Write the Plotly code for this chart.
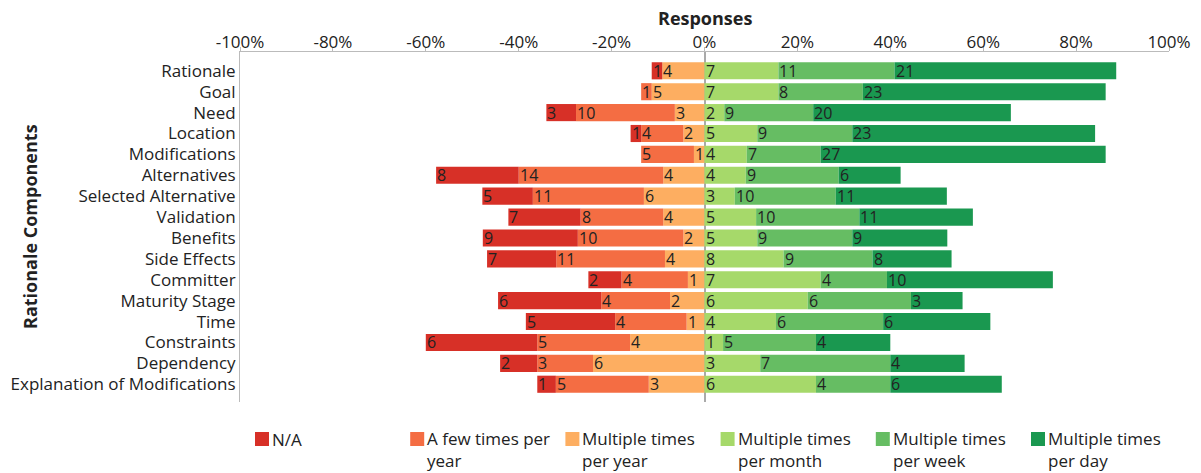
import plotly.graph_objects as go

# Rationale components and how often each response was given
components = [
    "Rationale", "Goal", "Need", "Location", "Modifications", "Alternatives",
    "Selected Alternative", "Validation", "Benefits", "Side Effects", "Committer",
    "Maturity Stage", "Time", "Constraints", "Dependency",
    "Explanation of Modifications",
]
na = [1, 0, 3, 1, 0, 8, 5, 7, 9, 7, 2, 6, 5, 6, 2, 1]
few_per_year = [0, 1, 10, 4, 5, 14, 11, 8, 10, 11, 4, 4, 4, 5, 3, 5]
multiple_per_year = [4, 5, 3, 2, 1, 4, 6, 4, 2, 4, 1, 2, 1, 4, 6, 3]
multiple_per_month = [7, 7, 2, 5, 4, 4, 3, 5, 5, 8, 7, 6, 4, 1, 3, 6]
multiple_per_week = [11, 8, 9, 9, 7, 9, 10, 10, 9, 9, 4, 6, 6, 5, 7, 4]
multiple_per_day = [21, 23, 20, 23, 27, 6, 11, 11, 9, 8, 10, 3, 6, 4, 4, 6]

tick_values = [-100, -80, -60, -40, -20, 0, 20, 40, 60, 80, 100]
tick_labels = ["-100%", "-80%", "-60%", "-40%", "-20%", "0%",
               "20%", "40%", "60%", "80%", "100%"]

FONT = "Open Sans"
TEXT_COLOR = "#222222"
AXIS_COLOR = "#bbbbbb"

# plot area in pixels
W, H = 1201, 473
L, R, T, B = 240, 32, 52, 71
PW, PH = W - L - R, H - T - B


def px_x(px):
    return (px - L) / PW


def px_y(py):
    return (H - B - py) / PH


totals = [sum(v) for v in zip(na, few_per_year, multiple_per_year,
                               multiple_per_month, multiple_per_week,
                               multiple_per_day)]

# (legend lines, counts, colour, side, legend slot); each side is stacked
# from zero outward, so the segment closest to zero comes first
series = [
    (("Multiple times", "per year"), multiple_per_year, "#fdae61", -1, 2),
    (("A few times per", "year"), few_per_year, "#f46d43", -1, 1),
    (("N/A",), na, "#d73027", -1, 0),
    (("Multiple times", "per month"), multiple_per_month, "#a6d96a", 1, 3),
    (("Multiple times", "per week"), multiple_per_week, "#66bd63", 1, 4),
    (("Multiple times", "per day"), multiple_per_day, "#1a9850", 1, 5),
]

fig = go.Figure()
shapes = []
annotations = []
neg_edge = [0.0] * len(components)
pos_edge = [0.0] * len(components)
for lines, counts, color, side, slot in series:
    name = " ".join(lines)
    pct = [side * 100.0 * c / t for c, t in zip(counts, totals)]
    fig.add_trace(go.Bar(
        y=components,
        x=pct,
        orientation="h",
        name=name,
        showlegend=False,
        marker=dict(color=color, line=dict(width=0)),
        customdata=counts,
        hovertemplate="%{y}: %{customdata}<extra>" + name + "</extra>",
    ))

    # count label at the left edge of every non-empty segment
    for i, (c, p) in enumerate(zip(counts, pct)):
        if side > 0:
            left = pos_edge[i]
            pos_edge[i] += p
        else:
            neg_edge[i] += p
            left = neg_edge[i]
        if c:
            annotations.append(dict(
                text=str(c), x=left, y=components[i],
                xref="x", yref="y",
                xanchor="left", yanchor="middle", showarrow=False,
                borderpad=0,
                font=dict(size=16, family=FONT, color=TEXT_COLOR),
            ))

    # legend entry: colour square followed by one or two lines of text
    x0 = 255 + slot * 155.2
    shapes.append(dict(
        type="rect", xref="paper", yref="paper",
        x0=px_x(x0), x1=px_x(x0 + 14), y0=px_y(446), y1=px_y(432),
        fillcolor=color, line=dict(width=0),
    ))
    annotations.append(dict(
        text="<br>".join(lines), xref="paper", yref="paper",
        x=px_x(x0 + 15), y=px_y(439.5 if len(lines) == 1 else 449),
        xanchor="left", yanchor="middle", align="left", showarrow=False,
        font=dict(size=17, family=FONT, color=TEXT_COLOR),
    ))

annotations.append(dict(
    text="<b>Rationale Components</b>",
    textangle=-90,
    xref="paper", yref="paper",
    x=px_x(30), y=0.5,
    xanchor="center", yanchor="middle",
    showarrow=False,
    font=dict(size=18, family=FONT, color=TEXT_COLOR),
))
annotations.append(dict(
    text="<b>Responses</b>",
    xref="paper", yref="paper",
    x=0.5, y=px_y(18),
    xanchor="center", yanchor="middle",
    showarrow=False,
    font=dict(size=18, family=FONT, color=TEXT_COLOR),
))

fig.update_layout(
    barmode="relative",
    bargap=0.18,
    width=W,
    height=H,
    paper_bgcolor="white",
    plot_bgcolor="white",
    font=dict(family=FONT, size=17, color=TEXT_COLOR),
    margin=dict(l=L, r=R, t=T, b=B, autoexpand=False),
    showlegend=False,
    xaxis=dict(
        side="top",
        range=[-100, 100],
        tickvals=tick_values,
        ticktext=tick_labels,
        tickfont=dict(size=17),
        ticks="outside",
        ticklen=4,
        tickcolor=AXIS_COLOR,
        ticklabelstandoff=-8,
        showline=True,
        linecolor=AXIS_COLOR,
        linewidth=1,
        showgrid=False,
        zeroline=True,
        zerolinecolor="#aaaaaa",
        zerolinewidth=1.5,
        automargin=False,
    ),
    yaxis=dict(
        categoryorder="array",
        categoryarray=components,
        tickmode="array",
        tickvals=components,
        ticktext=components,
        range=[15.85, -0.9],
        tickfont=dict(size=17),
        ticks="",
        ticklabelstandoff=0,
        showline=True,
        linecolor=AXIS_COLOR,
        linewidth=1,
        showgrid=False,
        automargin=False,
    ),
    shapes=shapes,
    annotations=annotations,
)

fig.write_html("out.html")
